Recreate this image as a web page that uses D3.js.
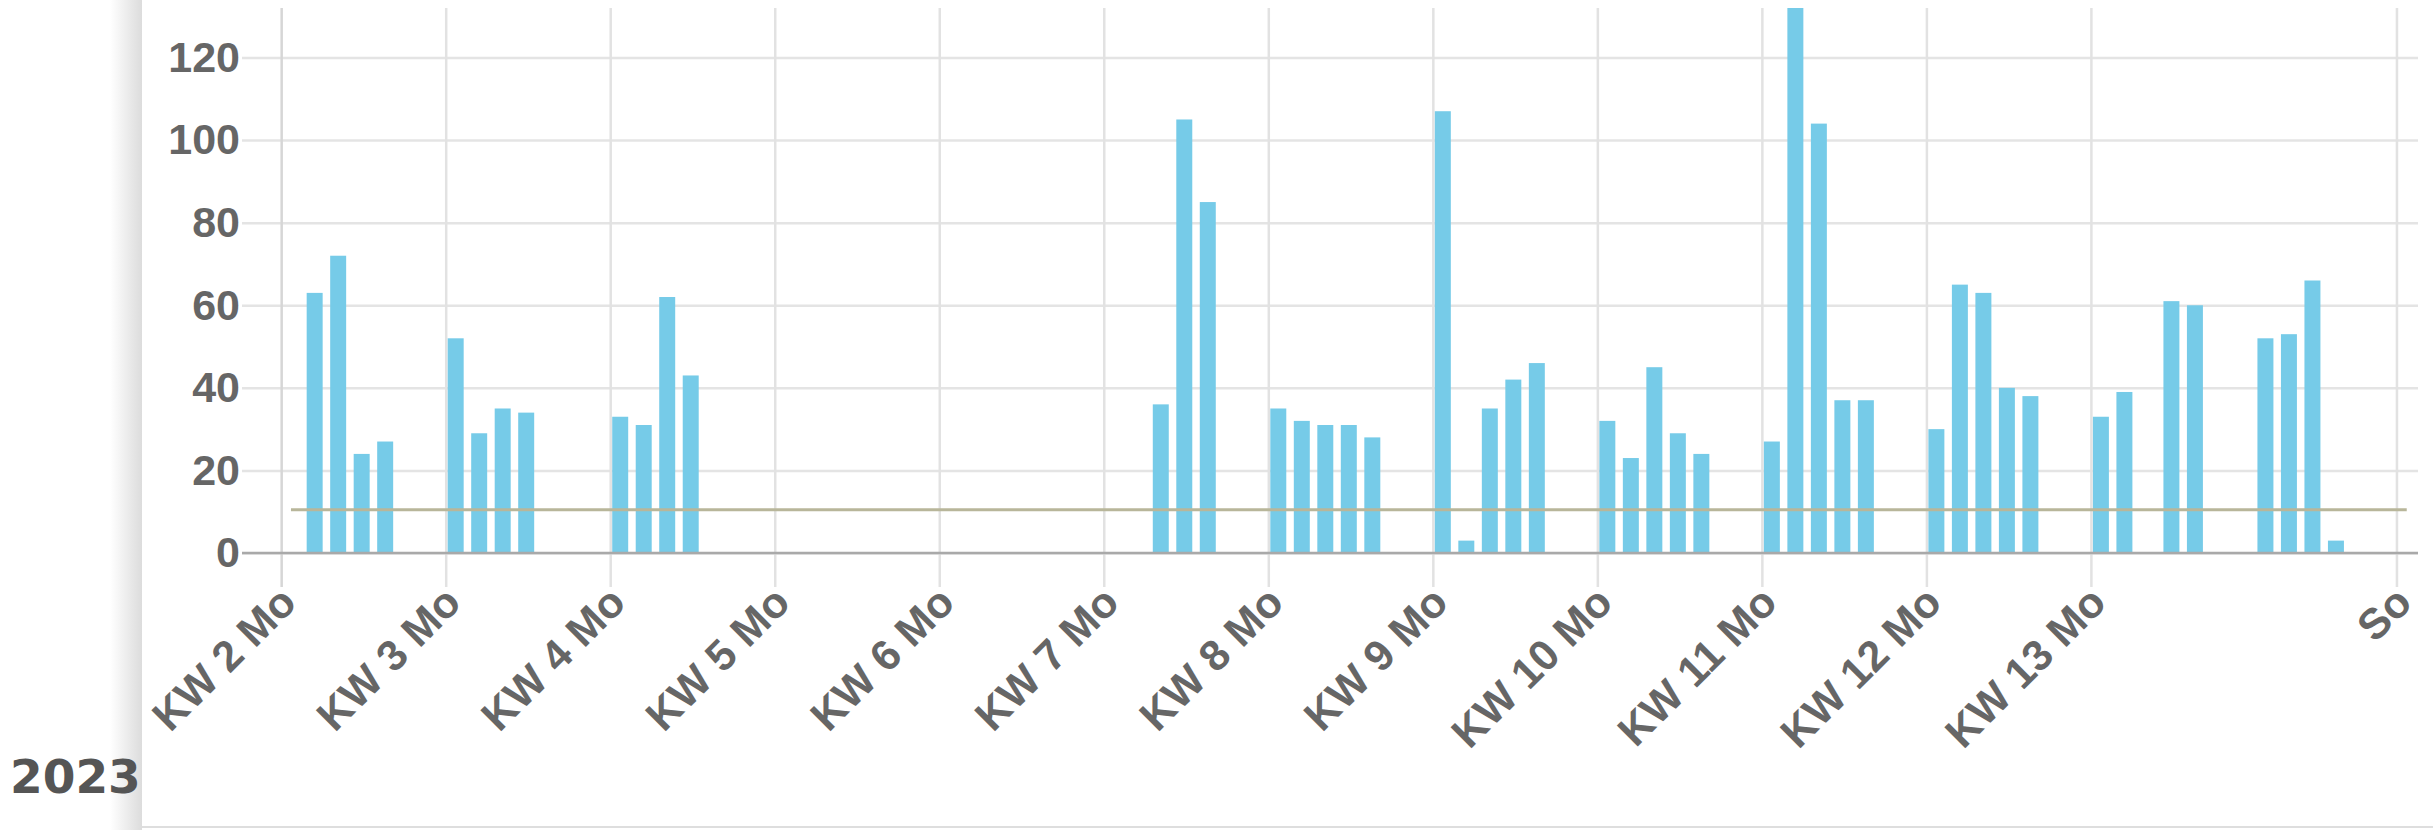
<!DOCTYPE html>
<html>
<head>
<meta charset="utf-8">
<script src="https://cdn.jsdelivr.net/npm/d3@7"></script>
<style>
	html, body { margin: 0; padding: 0; background: #fff; overflow: hidden; }
</style>
</head>
<body>
<svg id="chart"></svg>
<script>
// daily values (2023)
const days = [
	'2023-01-10', '2023-01-11', '2023-01-12', '2023-01-13',
	'2023-01-16', '2023-01-17', '2023-01-18', '2023-01-19',
	'2023-01-23', '2023-01-24', '2023-01-25', '2023-01-26',
	'2023-02-15', '2023-02-16', '2023-02-17',
	'2023-02-20', '2023-02-21', '2023-02-22', '2023-02-23', '2023-02-24',
	'2023-02-27', '2023-02-28', '2023-03-01', '2023-03-02', '2023-03-03',
	'2023-03-06', '2023-03-07', '2023-03-08', '2023-03-09', '2023-03-10',
	'2023-03-13', '2023-03-14', '2023-03-15', '2023-03-16', '2023-03-17',
	'2023-03-20', '2023-03-21', '2023-03-22', '2023-03-23', '2023-03-24',
	'2023-03-27', '2023-03-28', '2023-03-30', '2023-03-31',
	'2023-04-03', '2023-04-04', '2023-04-05', '2023-04-06'
];
const values = [
	63, 72, 24, 27,
	52, 29, 35, 34,
	33, 31, 62, 43,
	36, 105, 85,
	35, 32, 31, 31, 28,
	107, 3, 35, 42, 46,
	32, 23, 45, 29, 24,
	27, 140, 104, 37, 37,
	30, 65, 63, 40, 38,
	33, 39, 61, 60,
	52, 53, 66, 3
];

const tickDays = [
	'2023-01-09', '2023-01-16', '2023-01-23', '2023-01-30', '2023-02-06',
	'2023-02-13', '2023-02-20', '2023-02-27', '2023-03-06', '2023-03-13',
	'2023-03-20', '2023-03-27', '2023-04-09'
];
const tickLabels = [
	'KW 2 Mo', 'KW 3 Mo', 'KW 4 Mo', 'KW 5 Mo', 'KW 6 Mo',
	'KW 7 Mo', 'KW 8 Mo', 'KW 9 Mo', 'KW 10 Mo', 'KW 11 Mo',
	'KW 12 Mo', 'KW 13 Mo', 'So'
];
const yTicks = [0, 20, 40, 60, 80, 100, 120];

// reference line
const threshold = 10.5;
const thresholdFrom = '2023-01-09T10:00';
const thresholdTo = '2023-04-09T10:30';

const yearLabel = '2023';

function drawChart() {
	const width = 2433;
	const height = 830;
	const marginLeft = 242;
	const marginRight = 15;
	const plotTop = 8;
	const plotBottom = 553;
	const tickBottom = 587;

	const parseDay = d3.utcParse('%Y-%m-%d');
	const parseTime = d3.utcParse('%Y-%m-%dT%H:%M');

	const data = days.map((d, i) => ({ date: parseDay(d), value: values[i] }));
	const tickDates = tickDays.map(parseDay);

	const svg = d3.select('#chart')
		.attr('width', width)
		.attr('height', height)
		.attr('viewBox', [0, 0, width, height]);

	svg.selectAll('*').remove();

	const x = d3.scaleUtc()
		.domain([parseTime('2023-01-07T08:00'), parseTime('2023-04-09T22:00')])
		.range([marginLeft, width - marginRight]);

	const y = d3.scaleLinear()
		.domain([0, 132])
		.range([plotBottom, plotTop]);

	const dayWidth = x(parseDay('2023-01-10')) - x(parseDay('2023-01-09'));
	const barWidth = dayWidth * 0.68;

	// panel shadow on the left
	const defs = svg.append('defs');
	const grad = defs.append('linearGradient')
		.attr('id', 'panel-shadow')
		.attr('x1', '0%').attr('x2', '100%');
	grad.append('stop').attr('offset', '0%').attr('stop-color', '#ffffff');
	grad.append('stop').attr('offset', '100%').attr('stop-color', '#dcdcdc');

	defs.append('clipPath')
		.attr('id', 'plot-clip')
		.append('rect')
		.attr('x', marginLeft)
		.attr('y', plotTop)
		.attr('width', width - marginLeft - marginRight)
		.attr('height', plotBottom - plotTop);

	svg.append('rect')
		.attr('x', 110)
		.attr('y', 0)
		.attr('width', 32)
		.attr('height', height)
		.attr('fill', 'url(#panel-shadow)');

	// panel bottom border
	svg.append('line')
		.attr('x1', 142).attr('x2', width)
		.attr('y1', 827).attr('y2', 827)
		.attr('stroke', '#dedede')
		.attr('stroke-width', 2);

	// horizontal grid + y labels
	svg.append('g')
		.attr('transform', `translate(${marginLeft},0)`)
		.call(d3.axisLeft(y)
			.tickValues(yTicks)
			.tickSize(-(width - marginLeft - marginRight))
			.tickPadding(2))
		.call((g) => g.select('.domain').remove())
		.call((g) => g.selectAll('.tick line')
			.attr('stroke', '#e4e4e4')
			.attr('stroke-width', 2.5))
		.call((g) => g.selectAll('.tick text')
			.attr('fill', '#666')
			.style('font', 'bold 43px "Liberation Sans", Arial, sans-serif'));

	// vertical grid + rotated x labels
	svg.append('g')
		.attr('transform', `translate(0,${tickBottom})`)
		.call(d3.axisBottom(x)
			.tickValues(tickDates)
			.tickSize(-(tickBottom - plotTop))
			.tickFormat((d, i) => tickLabels[i]))
		.call((g) => g.select('.domain').remove())
		.call((g) => g.selectAll('.tick line')
			.attr('stroke', (d, i) => (i === 0 ? '#d6d6d6' : '#e2e2e2'))
			.attr('stroke-width', 2.5))
		.call((g) => g.selectAll('.tick text')
			.attr('x', 0)
			.attr('y', 0)
			.attr('dy', 0)
			.attr('text-anchor', 'end')
			.attr('transform', 'translate(17,18) rotate(-45)')
			.attr('fill', '#666')
			.style('font', 'bold 43px "Liberation Sans", Arial, sans-serif'));

	// bars
	svg.append('g')
		.attr('clip-path', 'url(#plot-clip)')
		.selectAll()
		.data(data)
		.join('rect')
		.attr('fill', '#76cbe8')
		.attr('x', (d) => x(d.date) + 2)
		.attr('y', (d) => y(d.value))
		.attr('width', barWidth)
		.attr('height', (d) => y(0) - y(d.value));

	// reference line
	svg.append('line')
		.attr('x1', x(parseTime(thresholdFrom)))
		.attr('x2', x(parseTime(thresholdTo)))
		.attr('y1', y(threshold))
		.attr('y2', y(threshold))
		.attr('stroke', '#b8b69a')
		.attr('stroke-width', 3);

	// zero axis line
	svg.append('line')
		.attr('x1', marginLeft)
		.attr('x2', width - marginRight)
		.attr('y1', y(0))
		.attr('y2', y(0))
		.attr('stroke', '#a9a9a9')
		.attr('stroke-width', 2.5);

	// year label
	svg.append('text')
		.attr('x', 10)
		.attr('y', 793)
		.attr('fill', '#555')
		.style('font', 'bold 47px "DejaVu Sans", sans-serif')
		.text(yearLabel);
}

drawChart();
</script>
</body>
</html>
